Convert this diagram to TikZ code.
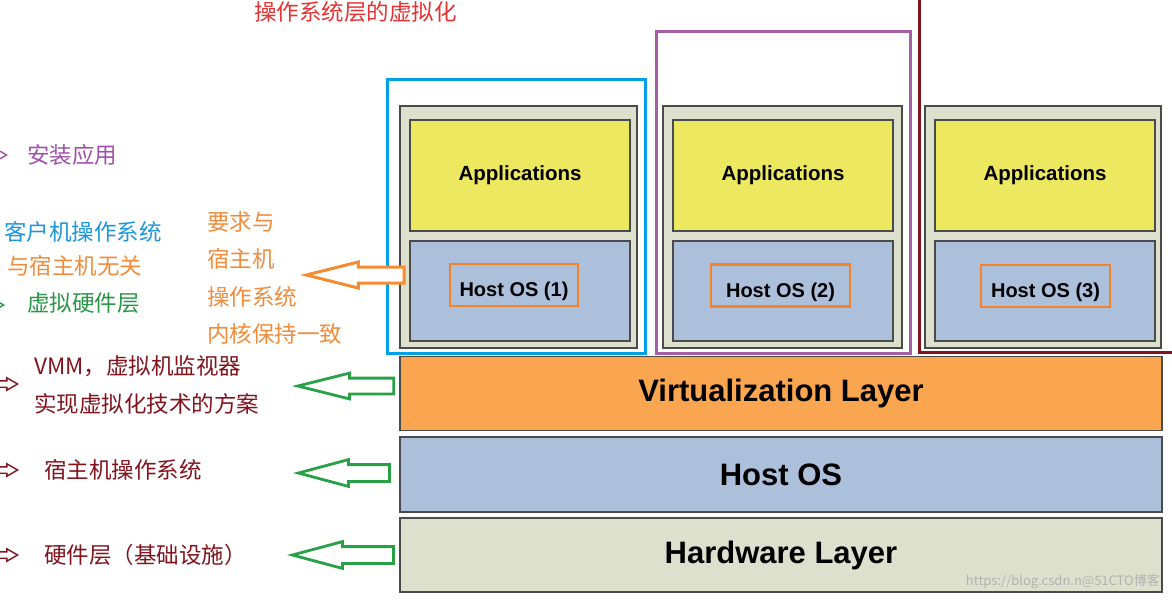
\documentclass[tikz,border=0pt]{standalone}
\usepackage{fontspec}
\newfontfamily\cjk{Noto Sans CJK SC}
\newfontfamily\arial{Liberation Sans}
\usetikzlibrary{shapes.arrows}

\definecolor{titlered}{RGB}{230,50,50}
\definecolor{txtpurple}{RGB}{160,80,170}
\definecolor{txtblue}{RGB}{30,150,220}
\definecolor{txtorange}{RGB}{240,140,60}
\definecolor{txtgreen}{RGB}{40,150,70}
\definecolor{darkred}{RGB}{130,20,30}
\definecolor{arrowgreen}{RGB}{40,160,70}
\definecolor{arroworange}{RGB}{245,140,50}
\definecolor{frameblue}{RGB}{0,160,230}
\definecolor{framepurple}{RGB}{165,95,165}
\definecolor{boxline}{RGB}{75,75,75}
\definecolor{hwfill}{RGB}{222,224,206}
\definecolor{appfill}{RGB}{236,232,95}
\definecolor{osfill}{RGB}{172,192,220}
\definecolor{virtfill}{RGB}{250,165,80}
\definecolor{hiliteorange}{RGB}{245,130,40}

\tikzset{
  vmbox/.style={draw=boxline, fill=hwfill, line width=1.5pt, minimum width=237pt, minimum height=242pt},
  appbox/.style={draw=boxline, fill=appfill, line width=1.2pt, minimum width=220pt, minimum height=111pt,
    font=\arial\bfseries\fontsize{20.5}{20.5}\selectfont},
  osbox/.style={draw=boxline, fill=osfill, line width=1.2pt, minimum width=220pt, minimum height=100pt},
  hilite/.style={draw=hiliteorange, line width=2.5pt, minimum height=42pt, inner sep=0pt,
    text height=23pt, text depth=0pt, font=\arial\bfseries\fontsize{20}{20}\selectfont},
  layer/.style={draw=boxline, line width=1.5pt, minimum width=762pt, minimum height=74pt,
    font=\arial\bfseries\fontsize{31}{31}\selectfont},
  note/.style={anchor=west, inner sep=0pt, font=\cjk\fontsize{22.5}{38}\selectfont, align=left},
  garrow/.style={single arrow, draw=arrowgreen, fill=white, line width=2.8pt, shape border rotate=180,
    inner sep=6.5pt, minimum width=0pt, single arrow head extend=5pt, single arrow tip angle=30, anchor=tip},
  edgemark/.style={single arrow, draw=darkred, fill=white, line width=1.4pt, inner sep=2.5pt,
    minimum width=0pt, minimum height=40pt, single arrow head extend=3pt, single arrow tip angle=60, anchor=tip},
}

\begin{document}
\begin{tikzpicture}[x=1pt,y=-1pt]
  \useasboundingbox (0,0) rectangle (1172,606);
  \fill[white] (0,0) rectangle (1172,606);
  \clip (0,0) rectangle (1172,606);

  % title
  \node[note, text=titlered] (title) at (254,12) {操作系统层的虚拟化};

  % frames round the guests
  \draw[frameblue, line width=3pt] (387,79) rectangle (645,353);
  \draw[framepurple, line width=3pt] (656,31) rectangle (910,353);
  \draw[darkred, line width=3pt] (919,0) -- (919,352) -- (1172,352);

  % three guests
  \node[vmbox] (vm1) at (518.5,227) {};
  \node[vmbox, minimum width=239pt] (vm2) at (782.5,227) {};
  \node[vmbox, minimum width=236pt] (vm3) at (1043,227) {};

  \node[appbox] (app1) at (520,175.5) {Applications};
  \node[appbox] (app2) at (783,175.5) {Applications};
  \node[appbox] (app3) at (1045,175.5) {Applications};

  \node[osbox] (os1) at (520,291) {};
  \node[osbox] (os2) at (783,291) {};
  \node[osbox] (os3) at (1045,291) {};

  \node[hilite, minimum width=128pt] (hos1) at (514,285) {Host OS (1)};
  \node[hilite, minimum width=139pt] (hos2) at (780.5,285.5) {Host OS (2)};
  \node[hilite, minimum width=129pt] (hos3) at (1045.5,286) {Host OS (3)};

  % layers
  \node[layer, fill=virtfill] (virt) at (781,393.5) {Virtualization Layer};
  \node[layer, fill=osfill, minimum height=75pt] (host) at (781,474.5) {Host OS};
  \node[layer, fill=hwfill] (hw) at (781,555) {Hardware Layer};

  % notes on the left
  \node[note, text=txtpurple] (apptxt) at (27,155) {安装应用};
  \node[note, text=txtblue] (guesttxt) at (4,232) {客户机操作系统};
  \node[note, text=txtorange] (freetxt) at (7,266) {与宿主机无关};
  \node[note, text=txtgreen] (vhwtxt) at (27,303) {虚拟硬件层};
  \node[note, text=txtorange, font=\cjk\fontsize{22.5}{37.4}\selectfont] (kerneltxt) at (207,278)
    {要求与\\宿主机\\操作系统\\内核保持一致};
  \node[note, text=darkred] (vmmtxt) at (34,385) {VMM，虚拟机监视器\\实现虚拟化技术的方案};
  \node[note, text=darkred] (hosttxt) at (44,470) {宿主机操作系统};
  \node[note, text=darkred] (hwtxt) at (44,555) {硬件层（基础设施）};

  % hollow arrows
  \node[garrow, draw=arroworange, line width=3pt, minimum height=98pt, inner sep=6.5pt,
    single arrow head extend=5pt, single arrow tip angle=28] (oarrow) at (300,275) {};
  \node[garrow, minimum height=96pt, single arrow tip angle=28] (garrow1) at (292,386) {};
  \node[garrow, minimum height=91pt, inner sep=7pt] (garrow2) at (293,473) {};
  \node[garrow, minimum height=101pt, inner sep=7pt] (garrow3) at (287,555) {};

  % cut-off marks at the left edge
  \node[edgemark, draw=txtpurple] (m1) at (8,155) {};
  \node[edgemark, draw=txtgreen] (m2) at (5,305) {};
  \node[edgemark] (m3) at (19,384) {};
  \node[edgemark] (m4) at (19,470) {};
  \node[edgemark] (m5) at (19,555) {};

  % watermark
  \node[anchor=east, inner sep=0pt, text=black!30, font=\cjk\fontsize{13}{13}\selectfont] (wm) at (1160,582)
    {https://blog.csdn.n@51CTO博客};
\end{tikzpicture}
\end{document}
